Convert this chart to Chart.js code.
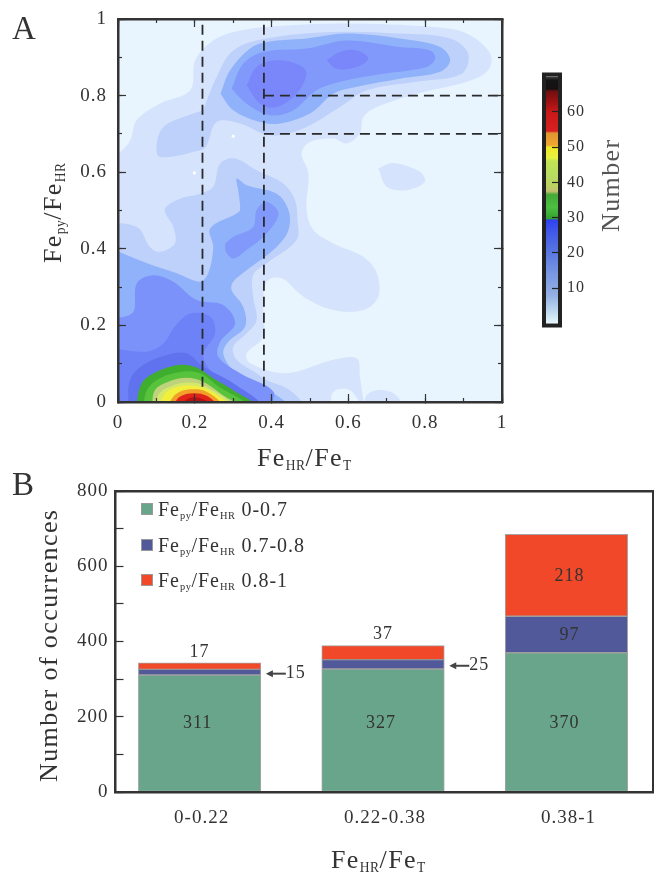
<!DOCTYPE html>
<html>
<head>
<meta charset="utf-8">
<script src="https://cdn.jsdelivr.net/npm/chart.js@4/dist/chart.umd.js"></script>
<style>
  html, body { margin: 0; background: #fff; }
  body { position: relative; width: 654px; height: 875px; overflow: hidden; font-family: "Liberation Serif", serif; color: #333; }
  canvas { position: absolute; display: block; }
  .txt { position: absolute; white-space: nowrap; line-height: 1; font-size: 26px; letter-spacing: 1.4px; }
  .rot { transform: rotate(-90deg); transform-origin: 0 0; }
  .txt sub { font-size: .52em; vertical-align: -.3em; line-height: 0; letter-spacing: .5px; }
  .leg { font-size: 20px; letter-spacing: 1px; }
  .swatch { position: absolute; left: 141px; width: 12px; height: 12px; box-sizing: border-box; border: 1px solid #999; }
</style>
</head>
<body>
<canvas id="contour" width="654" height="445" style="left:0;top:0"></canvas>
<canvas id="colorbar" width="100" height="280" style="left:530px;top:60px"></canvas>
<canvas id="bars" width="654" height="405" style="left:0;top:470px"></canvas>

<div class="txt" style="left:12px;top:12px;font-size:33px;letter-spacing:0">A</div>
<div class="txt" style="left:12px;top:468px;font-size:33px;letter-spacing:0">B</div>
<div class="txt" style="left:257px;top:445px">Fe<sub>HR</sub>/Fe<sub>T</sub></div>
<div class="txt rot" style="left:40px;top:263px">Fe<sub>py</sub>/Fe<sub>HR</sub></div>
<div class="txt rot" style="left:598px;top:232px;color:#555">Number</div>
<div class="txt" style="left:331px;top:847px">Fe<sub>HR</sub>/Fe<sub>T</sub></div>
<div class="txt rot" style="left:36px;top:782px">Number of occurrences</div>
<div id="legend"></div>

<script>
// ---------- panel A: contour bands, [FeHR/FeT, Fepy/FeHR] ----------
const band1Main = [[-.06,.6],[.027,.675],[.049,.736],[.109,.779],[.188,.814],[.201,.892],[.248,.944],[.318,.97],[.439,.983],[.595,.988],[.821,.979],[.908,.962],[.969,.91],[.964,.866],[.908,.836],[.778,.805],[.674,.77],[.639,.744],[.63,.701],[.595,.675],[.561,.688],[.5,.679],[.478,.649],[.496,.597],[.491,.501],[.509,.449],[.561,.414],[.639,.379],[.674,.336],[.678,.275],[.639,.24],[.561,.24],[.483,.275],[.426,.323],[.387,.314],[.378,.24],[.378,.17],[.335,.127],[.344,.101],[.439,.075],[.561,.11],[.622,.114],[.63,.066],[.635,.031],[.639,-.012],[.604,.031],[.561,.027],[.543,-.03],[.3,-.06],[-.06,-.06],[-.06,.3]];
const band1Patch = [[.678,.61],[.717,.624],[.786,.601],[.799,.575],[.752,.553],[.7,.562]];
const band1Foot = [[.639,-.012],[.648,.018],[.674,.031],[.717,.023],[.739,-.012],[.69,-.06]];
const band2Top = [[.222,.762],[.257,.849],[.3,.918],[.387,.949],[.561,.966],[.734,.962],[.865,.949],[.912,.91],[.895,.857],[.778,.836],[.648,.814],[.578,.77],[.491,.718],[.422,.697],[.378,.701],[.318,.727],[.257,.731],[.231,.67],[.214,.657],[.109,.64],[.101,.675],[.118,.718],[.17,.744]];
const band2Low = [[-.06,.47],[.049,.457],[.083,.405],[.109,.392],[.148,.414],[.144,.457],[.122,.503],[.161,.531],[.214,.544],[.248,.562],[.266,.623],[.305,.636],[.361,.605],[.431,.57],[.461,.527],[.467,.479],[.465,.423],[.387,.362],[.352,.331],[.352,.275],[.361,.214],[.335,.179],[.3,.144],[.309,.11],[.361,.075],[.387,.057],[.448,.031],[.478,-.012],[.3,-.06],[-.06,-.06],[-.06,.2]];
const band3Top = [[.267,.805],[.292,.866],[.344,.923],[.387,.94],[.491,.949],[.595,.962],[.734,.949],[.839,.927],[.865,.892],[.839,.862],[.734,.844],[.622,.823],[.561,.805],[.5,.753],[.422,.727],[.37,.731],[.3,.762]];
const band3Low = [[-.06,.42],[.066,.366],[.153,.336],[.214,.314],[.235,.336],[.248,.405],[.24,.453],[.309,.492],[.318,.501],[.313,.553],[.309,.583],[.335,.566],[.413,.544],[.444,.501],[.444,.449],[.413,.405],[.335,.344],[.3,.314],[.296,.292],[.326,.249],[.331,.197],[.287,.157],[.274,.127],[.3,.083],[.361,.049],[.439,-.012],[.3,-.06],[-.06,-.06],[-.06,.2]];
const band4Top = [[.296,.818],[.326,.883],[.378,.914],[.491,.923],[.595,.944],[.734,.927],[.813,.918],[.826,.897],[.804,.875],[.691,.857],[.595,.84],[.517,.814],[.457,.762],[.396,.749],[.335,.779]];
const band4Mid = [[.279,.414],[.3,.431],[.352,.457],[.361,.501],[.387,.523],[.418,.492],[.387,.44],[.335,.397],[.3,.375],[.281,.392]];
const band4Low = [[-.06,.22],[.036,.231],[.049,.31],[.092,.331],[.144,.314],[.205,.266],[.274,.253],[.305,.205],[.266,.157],[.261,.118],[.318,.075],[.405,.027],[.387,-.012],[.2,-.06],[-.06,-.06]];
const band5TopA = [[.335,.827],[.361,.875],[.413,.892],[.474,.879],[.491,.857],[.465,.805],[.413,.77],[.37,.779]];
const band5TopB = [[.543,.892],[.578,.914],[.622,.918],[.652,.897],[.622,.875],[.569,.87]];
const band5Low = [[-.06,.15],[.066,.131],[.118,.153],[.148,.197],[.188,.231],[.24,.223],[.253,.179],[.222,.123],[.248,.075],[.3,.04],[.361,-.012],[.2,-.06],[-.06,-.06]];
const band6Low = [[.027,-.012],[.031,.057],[.066,.097],[.127,.123],[.179,.127],[.222,.092],[.3,.049],[.37,-.012],[.2,-.06]];
const green1 = [[.047,-.012],[.062,.049],[.101,.079],[.161,.097],[.205,.09],[.248,.062],[.3,.031],[.357,-.012],[.2,-.06]];
const green2 = [[.066,-.012],[.075,.031],[.109,.062],[.166,.079],[.214,.075],[.257,.044],[.335,-.012],[.2,-.06]];
const khaki = [[.088,-.012],[.096,.031],[.131,.053],[.179,.063],[.222,.053],[.266,.023],[.309,-.012],[.2,-.06]];
const lime = [[.096,-.012],[.109,.024],[.144,.044],[.188,.051],[.231,.04],[.296,-.012],[.2,-.06]];
const yellow = [[.108,-.012],[.124,.024],[.166,.042],[.218,.038],[.257,.018],[.287,-.012],[.2,-.06]];
const orange = [[.127,-.012],[.151,.021],[.188,.033],[.231,.027],[.27,-.012],[.2,-.06]];
const red = [[.142,-.012],[.161,.014],[.196,.023],[.231,.016],[.257,-.012],[.2,-.06]];
const darkRed = [[.164,-.012],[.181,.008],[.205,.012],[.231,.003],[.244,-.012],[.2,-.06]];
const whiteDots = [[.3,.694],[.199,.598]];

const dashedLines = [
  [[.22,.985],[.22,.04]],
  [[.38,.985],[.38,.04]],
  [[.38,.8],[1,.8]],
  [[.38,.7],[1,.7]]
];

// lowest layer first
const contourLayers = [
  [band1Main, "#d6e3fc"], [band1Patch, "#d6e3fc"], [band1Foot, "#d6e3fc"],
  [band2Top, "#bed1fb"], [band2Low, "#bed1fb"],
  [band3Top, "#8fb2fb"], [band3Low, "#8fb2fb"],
  [band4Top, "#8199fa"], [band4Mid, "#8199fa"], [band4Low, "#7c92fb"],
  [band5TopA, "#7a87fa"], [band5TopB, "#7a87fa"], [band5Low, "#6e82f8"],
  [band6Low, "#6072ee"],
  [green1, "#3fae2f"], [green2, "#57c23c"], [khaki, "#bfd27c"], [lime, "#d6e86a"],
  [yellow, "#f3f03c"], [orange, "#f2a02a"], [red, "#e0241a"], [darkRed, "#b91212"]
];

const colorbarValues = [0, 3, 8, 14, 20, 26, 29.4, 29.6, 33, 36.5, 37.5, 39, 42, 46, 47, 50, 50.5, 54, 54.5, 60, 64, 65.8, 66.5, 69, 70];
const colorbarColors = ["#e6f8fc", "#c4dcf0", "#94b0e4", "#7a98e4", "#5a78e0", "#4058ea", "#3040f0", "#30a030", "#4cc040", "#44a838", "#c4c070", "#bcd060", "#b8dc60", "#c0e454", "#e8f040", "#f0e828", "#f0a830", "#e09430", "#d82020", "#c81818", "#8c1010", "#701010", "#151010", "#151515", "#444444"];
const colorbarTicks = [10, 20, 30, 40, 50, 60];

// ---------- panel B ----------
const categories = ["0-0.22", "0.22-0.38", "0.38-1"];
const seriesNames = ["0-0.7", "0.7-0.8", "0.8-1"];
const seriesLow = [311, 327, 370];
const seriesMid = [15, 25, 97];
const seriesHigh = [17, 37, 218];
const seriesColors = ["#69a58a", "#52599b", "#f04828"];

const legendTops = [499, 535, 570];
document.getElementById("legend").innerHTML = seriesNames.map((name, i) =>
  '<div class="swatch" style="top:' + (legendTops[i] + 4) + 'px;background:' + seriesColors[i] + '"></div>' +
  '<div class="txt leg" style="left:158px;top:' + legendTops[i] + 'px">Fe<sub>py</sub>/Fe<sub>HR</sub> ' + name + '</div>'
).join("");

const FONT = "Liberation Serif";
const INK = "#333";

// canvas text has no letter-spacing option in Chart.js, the original is set wide
const spacedText = (px) => ({
  id: "spacedText",
  beforeDraw(chart) { chart.ctx.letterSpacing = px; }
});

// one axis, or a label-less overlay when size is 0
function axis(position, min, max, step, tickLen, size, more) {
  return Object.assign({
    type: "linear",
    position,
    min,
    max,
    offset: false,
    weight: size ? 0 : -1,
    ticks: { display: false, stepSize: step, autoSkip: false },
    grid: { drawOnChartArea: false, tickLength: tickLen, tickColor: INK, tickWidth: 1.2, z: 2 },
    border: { display: false, color: INK, width: 2.5, z: 2 },
    afterFit(s) {
      if (s.isHorizontal()) s.height = size; else s.width = size;
      // the plot box is pinned, so label overhang must not push it around
      s.paddingTop = s.paddingBottom = s.paddingLeft = s.paddingRight = 0;
    }
  }, more);
}

function shown(opts) {
  opts.border.display = true;
  return opts;
}

function tickLabels(pad, size, cb) {
  return { display: true, stepSize: undefined, autoSkip: false, padding: pad, color: INK, font: { family: FONT, size }, callback: cb };
}

const decimal = (v) => String(+v.toFixed(1));

// ---------- contour map ----------
const contourSets = contourLayers.map(([poly, color], i) => ({
  data: poly.concat([poly[0]]),
  showLine: true,
  fill: "shape",
  backgroundColor: color,
  borderColor: color,
  borderWidth: 0,
  pointRadius: 0,
  tension: 0.35,
  capBezierPoints: false,
  order: -i
}));
contourSets.push({ data: whiteDots, showLine: false, pointRadius: 1.6, pointBackgroundColor: "#fff", pointBorderWidth: 0, order: -100 });
dashedLines.forEach((line) => contourSets.push({
  data: line,
  showLine: true,
  fill: false,
  borderColor: "#2a2a2a",
  borderWidth: 1.8,
  borderDash: [10, 6],
  pointRadius: 0,
  tension: 0,
  order: -200
}));

const xMain = shown(axis("bottom", 0, 1, 0.2, -8, 43));
xMain.ticks = Object.assign(tickLabels(18, 19, decimal), { stepSize: 0.2 });
const yMain = shown(axis("left", 0, 1, 0.2, -8, 118));
yMain.ticks = Object.assign(tickLabels(19, 19, decimal), { stepSize: 0.2 });

new Chart(document.getElementById("contour"), {
  type: "scatter",
  data: { datasets: contourSets },
  options: {
    responsive: false,
    animation: false,
    events: [],
    layout: { padding: { top: 19, right: 152, left: 0, bottom: 0 } },
    plugins: { legend: { display: false }, tooltip: { enabled: false } },
    scales: {
      x: xMain,
      y: yMain,
      xMinor: axis("bottom", 0, 1, 0.1, -4, 0),
      yMinor: axis("left", 0, 1, 0.1, -4, 0),
      xTop: shown(axis("top", 0, 1, 0.2, -8, 0)),
      yRight: shown(axis("right", 0, 1, 0.2, -8, 0)),
      xTopMinor: axis("top", 0, 1, 0.1, -4, 0),
      yRightMinor: axis("right", 0, 1, 0.1, -4, 0)
    }
  },
  plugins: [
    spacedText("1px"),
    {
      id: "mapBackground",
      beforeDatasetsDraw(chart) {
        const a = chart.chartArea;
        chart.ctx.save();
        chart.ctx.fillStyle = "#e8f5fe";
        chart.ctx.fillRect(a.left, a.top, a.width, a.height);
        chart.ctx.restore();
      }
    }
  ]
});

// ---------- colour bar ----------
function barGradient(ctx) {
  const chart = ctx.chart;
  if (!chart.chartArea) return "#888";
  const y = chart.scales.y;
  const g = chart.ctx.createLinearGradient(0, y.getPixelForValue(0), 0, y.getPixelForValue(70));
  colorbarValues.forEach((v, i) => g.addColorStop(v / 70, colorbarColors[i]));
  return g;
}

const yBar = axis("right", 0, 70, 10, -6, 72, {});
yBar.ticks = Object.assign(tickLabels(15, 16, (v) => (colorbarTicks.includes(v) ? String(v) : "")), { stepSize: 10 });
yBar.grid.tickColor = (c) => (colorbarTicks.includes(c.tick && c.tick.value) ? "#222" : "rgba(0,0,0,0)");
yBar.grid.z = 1;

new Chart(document.getElementById("colorbar"), {
  type: "bar",
  data: {
    labels: ["Number"],
    datasets: [{ data: [[0, 70]], backgroundColor: barGradient, barPercentage: 1, categoryPercentage: 1, borderWidth: 0 }]
  },
  options: {
    responsive: false,
    animation: false,
    events: [],
    layout: { padding: { left: 16, top: 16.5, bottom: 16.5, right: 0 } },
    plugins: { legend: { display: false }, tooltip: { enabled: false } },
    scales: {
      x: { display: false },
      y: yBar
    }
  },
  plugins: [
    spacedText("1px"),
    {
      id: "barFrame",
      afterDraw(chart) {
        const a = chart.chartArea;
        const ctx = chart.ctx;
        ctx.save();
        ctx.strokeStyle = "#222";
        ctx.lineWidth = 4;
        ctx.strokeRect(a.left - 2, a.top - 2, a.width + 4, a.height + 4);
        ctx.restore();
      }
    }
  ]
});

// ---------- stacked bars ----------
const toPoints = (values) => values.map((v, i) => ({ x: i, y: v }));
const barSets = [seriesLow, seriesMid, seriesHigh].map((values, i) => ({
  data: toPoints(values),
  backgroundColor: seriesColors[i],
  borderColor: "rgba(125,125,125,.7)",
  borderWidth: 1,
  borderSkipped: false,
  barThickness: 122.5
}));

const yCount = shown(axis("left", 0, 800, 100, -8, 115.5));
yCount.ticks = Object.assign(tickLabels(15, 19, (v) => (v % 200 === 0 ? String(v) : "")), { stepSize: 100 });

const xCat = shown(axis("bottom", -0.4586, 2.472, 1, 0, 83));
xCat.stacked = true;
xCat.grid.drawTicks = false;
xCat.ticks = Object.assign(tickLabels(15, 19, (v) => categories[v]), { labelOffset: 2 });
xCat.afterBuildTicks = (s) => { s.ticks = categories.map((c, i) => ({ value: i })); };
yCount.stacked = true;

const xTopB = shown(axis("top", 0, 1, 1, 0, 0));
xTopB.grid.drawTicks = false;
const yRightB = shown(axis("right", 0, 1, 1, 0, 0));
yRightB.grid.drawTicks = false;

new Chart(document.getElementById("bars"), {
  type: "bar",
  data: { datasets: barSets },
  options: {
    responsive: false,
    animation: false,
    events: [],
    layout: { padding: { top: 21, right: 1, left: 0, bottom: 0 } },
    plugins: { legend: { display: false }, tooltip: { enabled: false } },
    scales: { x: xCat, y: yCount, xTop: xTopB, yRight: yRightB }
  },
  plugins: [
    spacedText("1px"),
    {
      id: "barLabels",
      afterDatasetsDraw(chart) {
        const ctx = chart.ctx;
        const y = chart.scales.y;
        const low = chart.getDatasetMeta(0).data;
        const mid = chart.getDatasetMeta(1).data;
        const high = chart.getDatasetMeta(2).data;
        ctx.save();
        ctx.fillStyle = INK;
        ctx.font = "18px '" + FONT + "'";
        ctx.textAlign = "center";
        ctx.textBaseline = "middle";
        // green labels all sit at the same height in the original
        seriesLow.forEach((v, i) => ctx.fillText(v, low[i].x - 2, y.getPixelForValue(182)));
        // short stacks: red value above, blue value beside with an arrow
        [0, 1].forEach((i) => {
          ctx.fillText(seriesHigh[i], high[i].x, high[i].y - 11);
          const ay = (mid[i].y + mid[i].base) / 2 + 1.5;
          const ax = mid[i].x + mid[i].width / 2 + 5;
          ctx.fillText(seriesMid[i], ax + 30, ay);
          ctx.strokeStyle = "#444";
          ctx.lineWidth = 2;
          ctx.beginPath();
          ctx.moveTo(ax + 4, ay);
          ctx.lineTo(ax + 20, ay);
          ctx.stroke();
          ctx.fillStyle = "#444";
          ctx.beginPath();
          ctx.moveTo(ax, ay);
          ctx.lineTo(ax + 7, ay - 3.5);
          ctx.lineTo(ax + 7, ay + 3.5);
          ctx.closePath();
          ctx.fill();
          ctx.fillStyle = INK;
        });
        // tall stack: values in their bands
        ctx.fillText(seriesHigh[2], high[2].x + 3, (high[2].y + high[2].base) / 2 + 1);
        ctx.fillText(seriesMid[2], mid[2].x + 3, (mid[2].y + mid[2].base) / 2 + 1);
        ctx.restore();
      }
    }
  ]
});
</script>
</body>
</html>
